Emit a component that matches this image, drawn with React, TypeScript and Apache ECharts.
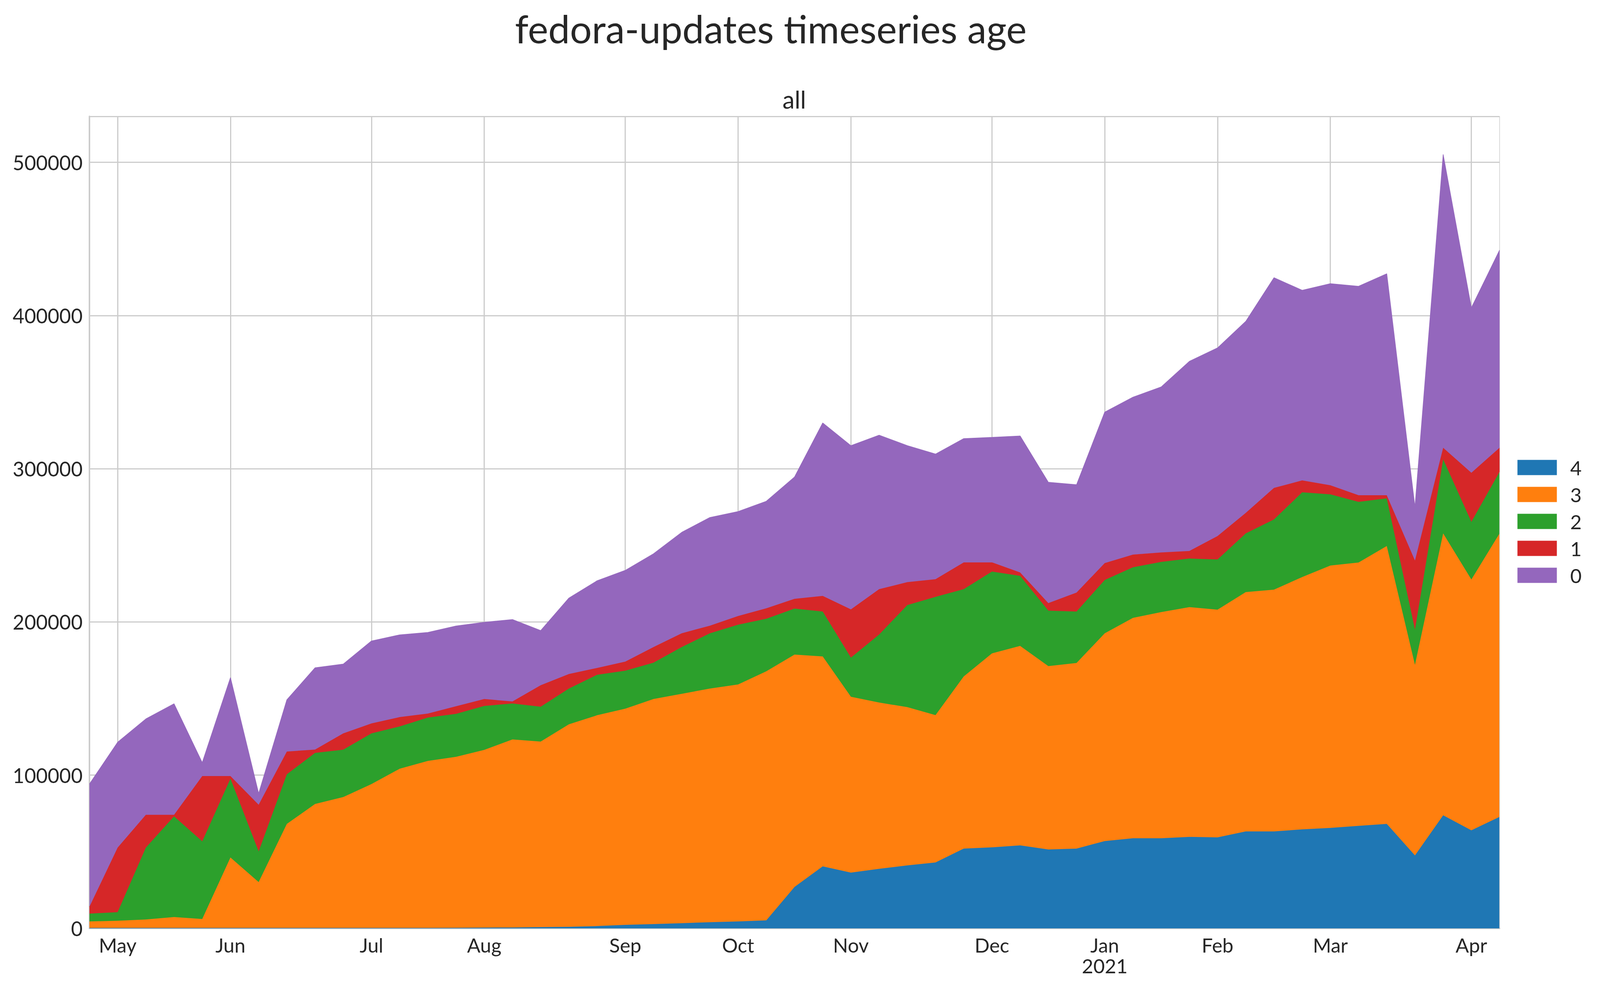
import React, { useEffect, useRef } from "react";
import * as echarts from "echarts";

const weeks = [
  "2020-04-27", "2020-05-04", "2020-05-11", "2020-05-18", "2020-05-25",
  "2020-06-01", "2020-06-08", "2020-06-15", "2020-06-22", "2020-06-29",
  "2020-07-06", "2020-07-13", "2020-07-20", "2020-07-27",
  "2020-08-03", "2020-08-10", "2020-08-17", "2020-08-24", "2020-08-31",
  "2020-09-07", "2020-09-14", "2020-09-21", "2020-09-28",
  "2020-10-05", "2020-10-12", "2020-10-19", "2020-10-26",
  "2020-11-02", "2020-11-09", "2020-11-16", "2020-11-23", "2020-11-30",
  "2020-12-07", "2020-12-14", "2020-12-21", "2020-12-28",
  "2021-01-04", "2021-01-11", "2021-01-18", "2021-01-25",
  "2021-02-01", "2021-02-08", "2021-02-15", "2021-02-22",
  "2021-03-01", "2021-03-08", "2021-03-15", "2021-03-22", "2021-03-29",
  "2021-04-05", "2021-04-12",
];

const monthNames = ["Jan", "Feb", "Mar", "Apr", "May", "Jun", "Jul", "Aug", "Sep", "Oct", "Nov", "Dec"];

const age4 = [300, 300, 300, 300, 300, 300, 300, 300, 300, 300, 300, 300, 300, 400, 500, 600, 800, 1000, 1500, 2300, 2800, 3400, 4000, 4500, 5200, 27000, 40500, 36400, 38900, 41100, 43000, 52100, 52900, 54200, 51500, 52100, 57000, 58800, 58800, 59700, 59400, 63300, 63300, 64600, 65600, 66900, 68200, 47600, 73800, 64000, 72800];
const age3 = [4200, 4700, 5500, 7100, 5800, 46000, 29900, 67900, 80900, 85400, 93900, 103900, 109000, 111600, 116000, 122700, 121100, 132200, 137600, 141100, 146900, 149700, 152500, 154700, 162600, 151700, 137000, 114800, 108500, 103300, 96200, 112300, 126600, 130200, 119700, 121100, 135600, 143900, 147600, 150000, 148600, 156200, 157800, 164700, 171200, 171900, 181400, 124400, 184000, 163700, 185000];
const age2 = [5100, 5600, 46900, 65700, 50700, 51400, 20000, 32400, 33300, 30900, 33100, 27600, 28300, 28000, 28700, 23500, 22800, 23300, 26400, 24800, 23700, 30500, 36100, 39000, 34300, 30000, 29300, 25500, 44400, 66600, 77200, 57000, 53400, 45700, 36200, 33600, 34800, 33000, 32800, 31700, 32800, 38300, 45800, 55300, 46500, 39600, 31100, 23000, 48400, 37600, 40200];
const age1 = [4500, 42100, 21400, 1000, 42600, 1700, 30500, 14800, 2200, 10700, 6500, 6100, 2600, 5000, 4500, 1300, 14000, 9500, 4500, 5900, 10200, 9000, 5000, 5700, 6800, 6400, 10200, 31500, 29600, 15000, 11500, 17500, 6000, 2200, 4900, 12400, 11000, 8300, 6200, 4900, 15300, 13400, 20600, 7800, 5900, 4300, 2000, 45100, 7500, 32100, 15700];
const age0 = [80100, 68800, 62600, 72500, 8800, 64300, 7400, 33800, 53400, 45200, 53800, 53700, 53000, 52400, 50100, 53500, 35700, 49600, 56900, 59600, 60900, 65900, 70600, 68200, 69900, 79500, 112900, 106900, 100500, 89100, 81700, 80800, 81600, 89100, 78900, 70400, 98600, 102700, 108000, 123800, 122800, 125000, 137200, 124100, 131600, 136400, 144600, 35000, 191500, 107700, 129000];

const seriesNames = ["4", "3", "2", "1", "0"];
const seriesData = [age4, age3, age2, age1, age0];
const colors = ["#1f77b4", "#ff7f0e", "#2ca02c", "#d62728", "#9467bd"];
const yTicks = [0, 100000, 200000, 300000, 400000, 500000];

const FONT = "Lato";
const TEXT = "#262626";
const GRID = "#cccccc";
const REF_W = 4222;
const REF_H = 2522;

function isMonthStart(index: number): boolean {
  if (index <= 0) return false;
  return weeks[index].slice(5, 7) !== weeks[index - 1].slice(5, 7);
}

export default function App() {
  const ref = useRef<HTMLDivElement>(null);
  useEffect(() => {
    document.body.style.margin = "0";
    document.body.style.overflow = "hidden";
    const el = ref.current!;
    const W = el.clientWidth || REF_W;
    const H = el.clientHeight || REF_H;
    const sx = W / REF_W;
    const sy = H / REF_H;
    const fs = Math.min(sx, sy);
    const chart = echarts.init(el, null, { renderer: "svg" });
    const option: any = {
      animation: false,
      backgroundColor: "#ffffff",
      graphic: [
        {
          type: "text",
          x: 2034 * sx,
          y: 72 * sy,
          style: {
            text: "fedora-updates timeseries age",
            fontFamily: FONT,
            fontSize: 102 * fs,
            fill: TEXT,
            align: "center",
            verticalAlign: "middle",
          },
        },
        {
          type: "text",
          x: 2096 * sx,
          y: 254 * sy,
          style: {
            text: "all",
            fontFamily: FONT,
            fontSize: 64 * fs,
            fill: TEXT,
            align: "center",
            verticalAlign: "middle",
          },
        },
      ],
      legend: {
        data: seriesNames,
        orient: "vertical",
        align: "left",
        left: 3999 * sx,
        top: 1167 * sy,
        itemWidth: 104 * sx,
        itemHeight: 39 * sy,
        itemGap: 19 * sy,
        icon: "rect",
        textStyle: { fontFamily: FONT, fontSize: 52 * fs, color: TEXT, padding: [0, 0, 0, 30 * sx] },
      },
      grid: { left: 236 * sx, right: 265 * sx, top: 298 * sy, bottom: 145 * sy, containLabel: false },
      xAxis: {
        type: "category",
        data: weeks,
        boundaryGap: false,
        axisLine: { show: true, lineStyle: { color: GRID, width: 4 } },
        axisTick: { show: false },
        axisLabel: {
          interval: (index: number) => isMonthStart(index),
          formatter: (value: string) => {
            const m = parseInt(value.slice(5, 7), 10) - 1;
            return m === 0 ? monthNames[m] + "\n" + value.slice(0, 4) : monthNames[m];
          },
          fontFamily: FONT,
          fontSize: 52 * fs,
          color: TEXT,
          margin: 16 * sy,
          lineHeight: 53 * sy,
        },
        splitLine: {
          show: true,
          interval: (index: number) => isMonthStart(index),
          lineStyle: { color: GRID, width: 3 },
        },
      },
      yAxis: {
        type: "value",
        min: 0,
        max: 530000,
        interval: 100000,
        axisLine: { show: true, lineStyle: { color: GRID, width: 4 } },
        axisTick: { show: false },
        axisLabel: {
          formatter: (v: number) => (yTicks.indexOf(v) >= 0 ? String(v) : ""),
          fontFamily: FONT,
          fontSize: 53 * fs,
          color: TEXT,
          margin: 18 * sx,
        },
        splitLine: { show: true, lineStyle: { color: GRID, width: 3 } },
      },
      series: seriesNames.map((name, i) => ({
        name,
        type: "line",
        stack: "total",
        data: seriesData[i],
        showSymbol: false,
        symbol: "none",
        color: colors[i],
        itemStyle: { color: colors[i] },
        lineStyle: { width: 1.5, color: colors[i] },
        areaStyle: { color: colors[i], opacity: 1 },
        z: 2 + i,
        markLine:
          i === seriesNames.length - 1
            ? {
                silent: true,
                symbol: "none",
                label: { show: false },
                lineStyle: { color: GRID, width: 1.5, type: "solid" },
                data: [{ xAxis: weeks[weeks.length - 1] }],
              }
            : undefined,
      })),
    };
    chart.setOption(option);
    return () => chart.dispose();
  }, []);
  return <div ref={ref} style={{ width: "100vw", height: "100vh", background: "#ffffff" }} />;
}
